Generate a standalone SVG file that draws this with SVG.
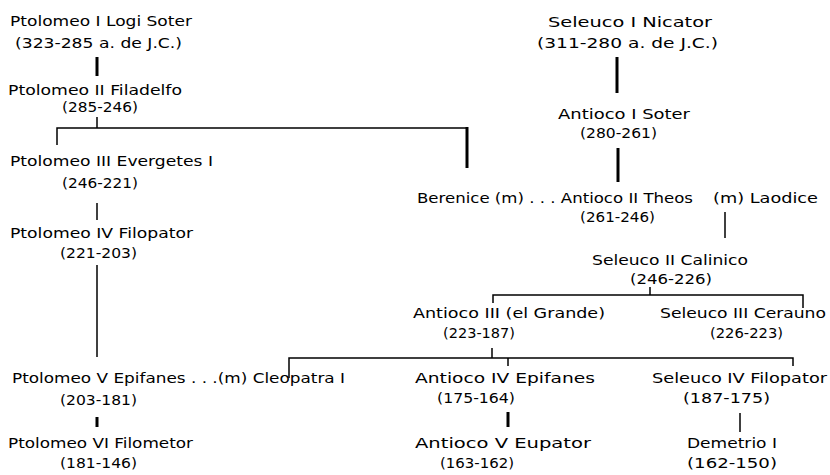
<svg xmlns="http://www.w3.org/2000/svg" width="830" height="475" viewBox="0 0 830 475">
<style>
text{font-family:"DejaVu Sans","Liberation Sans",sans-serif;font-size:14px;fill:#000}
.thin{stroke:#000;stroke-width:1.5;fill:none}
.thick{stroke:#000;stroke-width:3;fill:none}
</style>
<rect width="830" height="475" fill="#fff"/>
<g id="connectors">
<line class="thick" x1="97" y1="57" x2="97" y2="76"/>
<line class="thin" x1="97" y1="117" x2="97" y2="128"/>
<polyline class="thin" points="57,145 57,128 467,128"/>
<line class="thick" x1="467" y1="127" x2="467" y2="168"/>
<line class="thin" x1="97" y1="203" x2="97" y2="220"/>
<line class="thin" x1="97" y1="265" x2="97" y2="357"/>
<line class="thick" x1="97" y1="417" x2="97" y2="427"/>
<line class="thick" x1="617" y1="57" x2="617" y2="93"/>
<line class="thick" x1="618" y1="148" x2="618" y2="182"/>
<line class="thin" x1="725" y1="212" x2="725" y2="238"/>
<line class="thin" x1="650" y1="287" x2="650" y2="295"/>
<polyline class="thin" points="493,303 493,295 803,295 803,308"/>
<line class="thin" x1="492" y1="348" x2="492" y2="358"/>
<polyline class="thin" points="289,378 289,358 793,358 793,366"/>
<line class="thin" x1="508" y1="358" x2="508" y2="366"/>
<line class="thick" x1="508" y1="412" x2="508" y2="427"/>
<line class="thin" x1="740" y1="413" x2="740" y2="432"/>
</g>
<g id="ptolomeo1"><text x="10" y="26" textLength="182" lengthAdjust="spacingAndGlyphs">Ptolomeo I Logi Soter</text><text x="15" y="48" textLength="167" lengthAdjust="spacingAndGlyphs">(323-285 a. de J.C.)</text></g>
<g id="ptolomeo2"><text x="8" y="95" textLength="174" lengthAdjust="spacingAndGlyphs">Ptolomeo II Filadelfo</text><text x="62" y="112" textLength="76" lengthAdjust="spacingAndGlyphs">(285-246)</text></g>
<g id="ptolomeo3"><text x="10" y="166" textLength="203" lengthAdjust="spacingAndGlyphs">Ptolomeo III Evergetes I</text><text x="62" y="188" textLength="76" lengthAdjust="spacingAndGlyphs">(246-221)</text></g>
<g id="ptolomeo4"><text x="10" y="238" textLength="183" lengthAdjust="spacingAndGlyphs">Ptolomeo IV Filopator</text><text x="60" y="258" textLength="77" lengthAdjust="spacingAndGlyphs">(221-203)</text></g>
<g id="ptolomeo5"><text x="12" y="383" textLength="333" lengthAdjust="spacingAndGlyphs">Ptolomeo V Epifanes . . .(m) Cleopatra I</text><text x="60" y="405" textLength="77" lengthAdjust="spacingAndGlyphs">(203-181)</text></g>
<g id="ptolomeo6"><text x="8" y="448" textLength="185" lengthAdjust="spacingAndGlyphs">Ptolomeo VI Filometor</text><text x="60" y="468" textLength="77" lengthAdjust="spacingAndGlyphs">(181-146)</text></g>
<g id="seleuco1"><text x="548" y="27" textLength="164" lengthAdjust="spacingAndGlyphs">Seleuco I Nicator</text><text x="537" y="48" textLength="181" lengthAdjust="spacingAndGlyphs">(311-280 a. de J.C.)</text></g>
<g id="antioco1"><text x="558" y="119" textLength="132" lengthAdjust="spacingAndGlyphs">Antioco I Soter</text><text x="580" y="138" textLength="77" lengthAdjust="spacingAndGlyphs">(280-261)</text></g>
<g id="antioco2"><text x="417" y="203" textLength="276" lengthAdjust="spacingAndGlyphs">Berenice (m) . . . Antioco II Theos</text><text x="580" y="222" textLength="75" lengthAdjust="spacingAndGlyphs">(261-246)</text></g>
<g id="laodice"><text x="713" y="203" textLength="105" lengthAdjust="spacingAndGlyphs">(m) Laodice</text></g>
<g id="seleuco2"><text x="592" y="265" textLength="156" lengthAdjust="spacingAndGlyphs">Seleuco II Calinico</text><text x="630" y="284" textLength="82" lengthAdjust="spacingAndGlyphs">(246-226)</text></g>
<g id="antioco3"><text x="413" y="318" textLength="192" lengthAdjust="spacingAndGlyphs">Antioco III (el Grande)</text><text x="443" y="338" textLength="72" lengthAdjust="spacingAndGlyphs">(223-187)</text></g>
<g id="seleuco3"><text x="660" y="318" textLength="166" lengthAdjust="spacingAndGlyphs">Seleuco III Cerauno</text><text x="710" y="338" textLength="73" lengthAdjust="spacingAndGlyphs">(226-223)</text></g>
<g id="antioco4"><text x="415" y="383" textLength="180" lengthAdjust="spacingAndGlyphs">Antioco IV Epifanes</text><text x="437" y="403" textLength="78" lengthAdjust="spacingAndGlyphs">(175-164)</text></g>
<g id="antioco5"><text x="415" y="448" textLength="176" lengthAdjust="spacingAndGlyphs">Antioco V Eupator</text><text x="440" y="468" textLength="74" lengthAdjust="spacingAndGlyphs">(163-162)</text></g>
<g id="seleuco4"><text x="652" y="383" textLength="175" lengthAdjust="spacingAndGlyphs">Seleuco IV Filopator</text><text x="683" y="403" textLength="87" lengthAdjust="spacingAndGlyphs">(187-175)</text></g>
<g id="demetrio1"><text x="687" y="448" textLength="90" lengthAdjust="spacingAndGlyphs">Demetrio I</text><text x="687" y="468" textLength="90" lengthAdjust="spacingAndGlyphs">(162-150)</text></g>
</svg>
